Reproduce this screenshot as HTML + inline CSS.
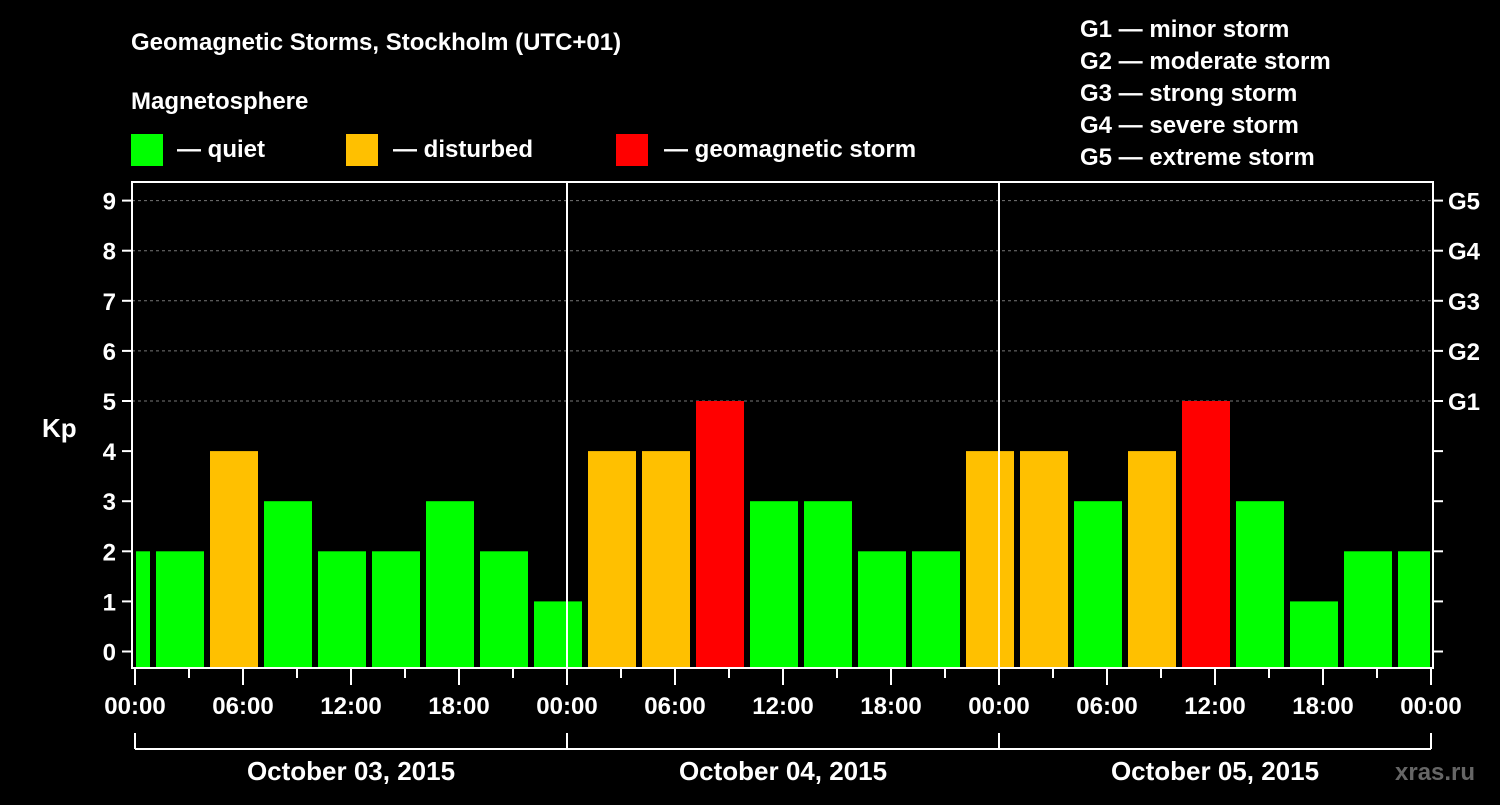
<!DOCTYPE html>
<html><head><meta charset="utf-8"><style>
body{margin:0;background:#000;width:1500px;height:800px;overflow:hidden}
svg text{font-family:"Liberation Sans",Arial,sans-serif;font-weight:bold;fill:#fff}
</style></head><body>
<svg id="c" width="1500" height="800" xmlns="http://www.w3.org/2000/svg">
<text x="131" y="50" font-size="24">Geomagnetic Storms, Stockholm (UTC+01)</text>
<text x="131" y="109" font-size="24">Magnetosphere</text>
<g><rect x="131" y="134" width="32" height="32" fill="#00ff00"/><text x="177" y="157" font-size="24">— quiet</text></g>
<g><rect x="346" y="134" width="32" height="32" fill="#ffc000"/><text x="393" y="157" font-size="24">— disturbed</text></g>
<g><rect x="616" y="134" width="32" height="32" fill="#ff0000"/><text x="664" y="157" font-size="24">— geomagnetic storm</text></g>
<g font-size="24">
<text x="1080" y="37">G1 — minor storm</text><text x="1080" y="69">G2 — moderate storm</text><text x="1080" y="101">G3 — strong storm</text><text x="1080" y="133">G4 — severe storm</text><text x="1080" y="165">G5 — extreme storm</text></g>
<text x="42" y="437" font-size="26">Kp</text>
<text x="1395" y="780" font-size="24" fill="#888" style="fill:#666">xras.ru</text>
<g id="grid"></g><g id="bars"></g><g id="axes"></g>
</svg>
<script>
const kpValues=[2,2,4,3,2,2,3,2,1, 4,4,5,3,3,2,2,4, 4,3,4,5,3,1,2,2];
const dayLabels=["October 03, 2015","October 04, 2015","October 05, 2015"];
const yTicks=[0,1,2,3,4,5,6,7,8,9];
const gLabels=["G1","G2","G3","G4","G5"];
const hourLabels=["00:00","06:00","12:00","18:00"];
const NS="http://www.w3.org/2000/svg";
const X0=135,PXH=18,L=132,R=1433,T=182,B=668;
const xs=h=>X0+h*PXH, ys=v=>651.5-v*50.1;
function mk(tag,attrs,parent,text){const e=document.createElementNS(NS,tag);for(const k in attrs)e.setAttribute(k,attrs[k]);if(text!==undefined)e.textContent=text;document.getElementById(parent).appendChild(e);return e;}
// grid
[5,6,7,8,9].forEach(v=>{const e=mk('line',{x1:L,x2:R,y1:ys(v),y2:ys(v),stroke:'#777','stroke-dasharray':'3,3','stroke-width':1},'grid');

});
// bars
const maxH=72;
kpValues.forEach((v,i)=>{let h0=-2+i*3,h1=h0+3;let x0=xs(h0)+3,x1=xs(h1)-3;x0=Math.max(x0,xs(0)+1);x1=Math.min(x1,xs(maxH)-1);
const col=v>=5?'#ff0000':(v>=4?'#ffc000':'#00ff00');
const y=ys(v);const e=mk('rect',{x:x0,y:y,width:x1-x0,height:B-y,fill:col},'bars');

});
// axes
let e=mk('rect',{x:L,y:T,width:R-L,height:B-T,fill:'none',stroke:'#fff','stroke-width':2},'axes');


[1,2].forEach(d=>{const l=mk('line',{x1:xs(d*24),x2:xs(d*24),y1:T,y2:B,stroke:'#fff','stroke-width':2},'axes');

});
yTicks.forEach(v=>{mk('line',{x1:122,x2:L,y1:ys(v),y2:ys(v),stroke:'#fff','stroke-width':2},'axes');
mk('line',{x1:R,x2:R+10,y1:ys(v),y2:ys(v),stroke:'#fff','stroke-width':2},'axes');
const t=mk('text',{x:116,y:ys(v)+9,'font-size':24,'text-anchor':'end'},'axes',String(v));

});
gLabels.forEach((g,i)=>{const t=mk('text',{x:1448,y:ys(5+i)+9,'font-size':24},'axes',g);

});
for(let h=0;h<=72;h+=3){const major=h%6==0;mk('line',{x1:xs(h),x2:xs(h),y1:B,y2:major?685:678,stroke:'#fff','stroke-width':2},'axes');
if(major){const lbl=h%24==0?"00:00":hourLabels[(h%24)/6];const t=mk('text',{x:xs(h),y:714,'font-size':24,'text-anchor':'middle'},'axes',lbl);

}}
mk('line',{x1:xs(0),x2:xs(72),y1:749,y2:749,stroke:'#fff','stroke-width':2},'axes');
for(let d=0;d<=3;d++)mk('line',{x1:xs(d*24),x2:xs(d*24),y1:733,y2:749,stroke:'#fff','stroke-width':2},'axes');
dayLabels.forEach((s,d)=>{const t=mk('text',{x:xs(d*24+12),y:780,'font-size':26,'text-anchor':'middle'},'axes',s);

});
</script>
</body></html>
